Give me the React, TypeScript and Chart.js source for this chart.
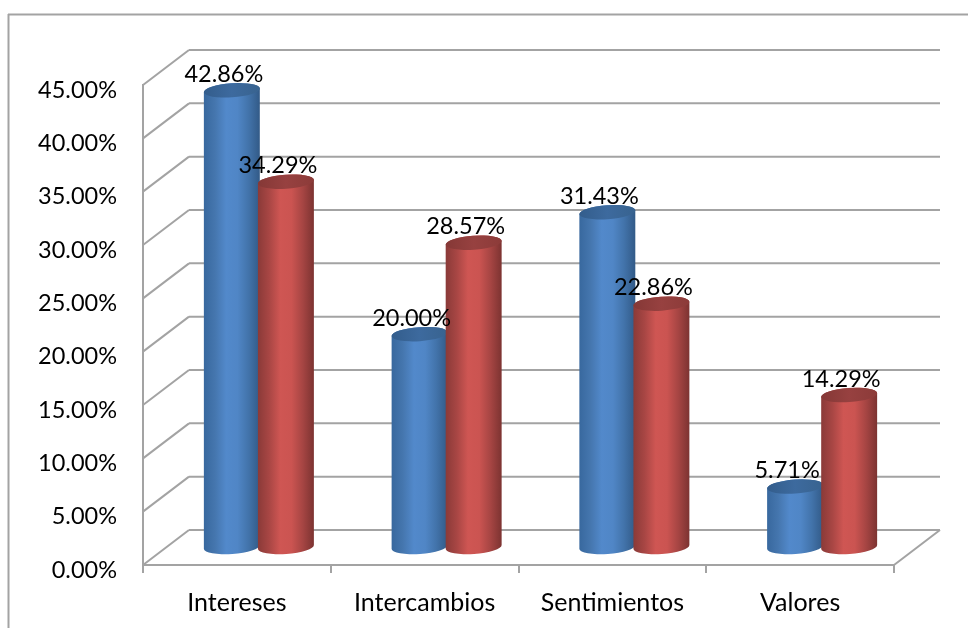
import React, { useEffect, useRef } from "react";
import { Chart, registerables } from "chart.js";

Chart.register(...registerables);

const categories = ["Intereses", "Intercambios", "Sentimientos", "Valores"];
const blueValues = [42.86, 20.0, 31.43, 5.71];
const redValues = [34.29, 28.57, 22.86, 14.29];
const yTicks = [0, 5, 10, 15, 20, 25, 30, 35, 40, 45];

const GRAY = "#A3A3A3";
const FONT = "Lato";
const FONT_SIZE = 23.5;
const X_FONT_SIZE = 25;
const DEPTH_X = 46;
const DEPTH_Y = 35;
const BAR_SHIFT_X = 22;
const RY = 7;
const TILT = (-4 * Math.PI) / 180;

const shades: Record<string, { body: string[]; cap: string[] }> = {
  blue: {
    body: ["#38689E", "#4576AE", "#5289CB", "#5086C6", "#4273AA", "#325A87"],
    cap: ["#335D8C", "#3D6A9E", "#38638F"],
  },
  red: {
    body: ["#8A3A38", "#A84644", "#CF5653", "#CB5451", "#A64543", "#7C3331"],
    cap: ["#853836", "#974140", "#8C3B39"],
  },
};

const fmt = (v: number) => v.toFixed(2) + "%";

function line(ctx: CanvasRenderingContext2D, x1: number, y1: number, x2: number, y2: number) {
  ctx.beginPath();
  ctx.moveTo(x1, y1);
  ctx.lineTo(x2, y2);
  ctx.stroke();
}

function horizontal(ctx: CanvasRenderingContext2D, left: number, right: number, colors: string[]) {
  const g = ctx.createLinearGradient(left, 0, right, 0);
  colors.forEach((c, i) => g.addColorStop(i / (colors.length - 1), c));
  return g;
}

const chartPlugin = {
  id: "cylinder3d",
  beforeDraw(chart: any) {
    const ctx = chart.ctx;
    ctx.save();
    ctx.strokeStyle = GRAY;
    ctx.lineWidth = 2;
    line(ctx, 8.5, 14, 8.5, 628);
    line(ctx, 8, 14.5, 968, 14.5);
    ctx.restore();
  },
  beforeDatasetsDraw(chart: any) {
    const { ctx, chartArea, scales } = chart;
    ctx.save();
    ctx.strokeStyle = GRAY;
    ctx.lineWidth = 2;
    yTicks.forEach((t) => {
      const y = scales.y.getPixelForValue(t);
      line(ctx, chartArea.left, y, chartArea.left + DEPTH_X, y - DEPTH_Y);
      line(ctx, chartArea.left + DEPTH_X, y - DEPTH_Y, chartArea.right + DEPTH_X, y - DEPTH_Y);
    });
    const y0 = scales.y.getPixelForValue(0);
    line(ctx, chartArea.right, y0, chartArea.right + DEPTH_X, y0 - DEPTH_Y);
    ctx.restore();

    // Cylinders are painted in series order so that the red one overlaps the blue one.
    [0, 1].forEach((i) => {
      const key = i === 0 ? "blue" : "red";
      ctx.save();
      chart.getDatasetMeta(i).data.forEach((bar: any) => {
        const p = bar.getProps(["x", "y", "base", "width"], true);
        const cx = p.x + BAR_SHIFT_X;
        const top = p.y - DEPTH_Y / 2;
        const base = p.base - DEPTH_Y / 2;
        const rx = p.width / 2;
        const left = cx - rx;
        const right = cx + rx;
        ctx.beginPath();
        ctx.ellipse(cx, base, rx, RY, TILT, 0, Math.PI);
        ctx.ellipse(cx, top, rx, RY, TILT, Math.PI, Math.PI * 2);
        ctx.closePath();
        ctx.fillStyle = horizontal(ctx, left, right, shades[key].body);
        ctx.fill();
        ctx.beginPath();
        ctx.ellipse(cx, top, rx, RY, TILT, 0, Math.PI * 2);
        ctx.fillStyle = horizontal(ctx, left, right, shades[key].cap);
        ctx.fill();
      });
      ctx.restore();
    });
  },
  beforeDatasetDraw() {
    return false;
  },
  afterDatasetsDraw(chart: any) {
    const ctx = chart.ctx;
    ctx.save();
    ctx.fillStyle = "#000";
    ctx.font = `${FONT_SIZE}px ${FONT}`;
    ctx.textAlign = "center";
    ctx.textBaseline = "middle";
    [0, 1].forEach((i) => {
      const meta = chart.getDatasetMeta(i);
      meta.data.forEach((bar: any, j: number) => {
        const v = chart.data.datasets[i].data[j];
        ctx.fillText(fmt(v), bar.x + BAR_SHIFT_X - 8, bar.y - DEPTH_Y / 2 - 16);
      });
    });
    ctx.restore();
  },
};

export default function App() {
  const ref = useRef<HTMLCanvasElement>(null);
  useEffect(() => {
    const chart = new Chart(ref.current!, {
      type: "bar",
      plugins: [chartPlugin],
      data: {
        labels: categories,
        datasets: [
          { label: "Serie 1", data: blueValues, backgroundColor: "#4F81BD" },
          { label: "Serie 2", data: redValues, backgroundColor: "#C0504D" },
        ],
      },
      options: {
        animation: false,
        responsive: false,
        layout: { autoPadding: false, padding: { left: 0, top: 85, right: 74, bottom: 0 } },
        plugins: { legend: { display: false }, title: { display: false }, tooltip: { enabled: false } },
        datasets: { bar: { categoryPercentage: 0.576, barPercentage: 1.037 } },
        scales: {
          x: {
            afterFit: (s: any) => {
              s.height = 63;
            },
            grid: { drawOnChartArea: false, color: GRAY, lineWidth: 2, tickLength: 8 },
            border: { color: GRAY, width: 2 },
            ticks: {
              color: "#000",
              font: { family: FONT, size: X_FONT_SIZE },
              padding: 15,
              maxRotation: 0,
              autoSkip: false,
            },
          },
          y: {
            min: 0,
            max: 45,
            afterFit: (s: any) => {
              s.width = 143;
            },
            grid: { drawOnChartArea: false, drawTicks: false },
            border: { color: GRAY, width: 2 },
            ticks: {
              stepSize: 5,
              color: "#000",
              font: { family: FONT, size: FONT_SIZE },
              padding: 26,
              labelOffset: 5,
              callback: (v: any) => fmt(Number(v)),
            },
          },
        },
      },
    } as any);
    return () => chart.destroy();
  }, []);
  return (
    <div style={{ position: "fixed", left: 0, top: 0, width: 968, height: 628, background: "#fff" }}>
      <canvas ref={ref} width={968} height={628} style={{ display: "block" }} />
    </div>
  );
}
